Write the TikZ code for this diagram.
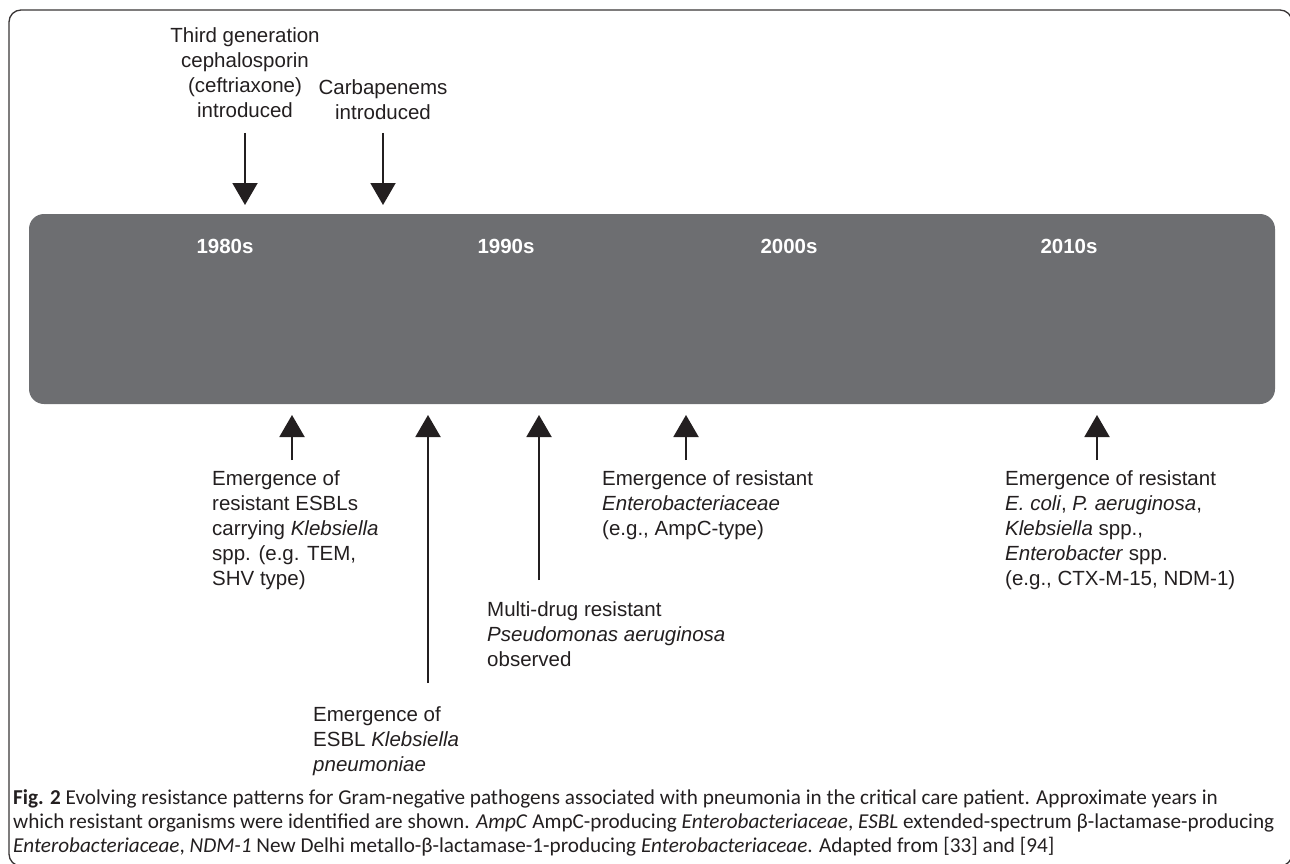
\documentclass[tikz,border=0pt]{standalone}
\usepackage{fontspec}
\setmainfont{Liberation Sans}
\newfontfamily\capfont{Carlito}
\usetikzlibrary{arrows.meta}
\definecolor{bargray}{HTML}{6D6E71}
\definecolor{ink}{HTML}{231F20}
\newlength\mycapw
\newcommand\mycaplinetwo{which resistant organisms were identified are shown. \textit{AmpC} AmpC-producing \textit{Enterobacteriaceae}, \textit{ESBL} extended-spectrum β-lactamase-producing}
\begin{document}
\settowidth\mycapw{\capfont\fontsize{20}{24}\selectfont\mycaplinetwo}%
\pgfmathsetmacro\mycapsize{1261/\mycapw*20}%
\begin{tikzpicture}[x=1pt,y=-1pt,
  lbl/.style={font=\fontsize{20.5}{25}\selectfont, text=ink, inner sep=0pt},
  yearlbl/.style={font=\fontsize{20.5}{24}\selectfont\bfseries, text=white, inner sep=0pt},
  arr/.style={draw=ink, line width=2pt, -{Triangle[length=22pt,width=25pt]}},
  capstyle/.style={font=\capfont\fontsize{\mycapsize}{24}\selectfont, text=ink, inner sep=0pt, align=left}
]
\useasboundingbox (0,0) rectangle (1290,864);
% outer frame
\draw[ink!90, line width=1.3pt, rounded corners=12pt] (9,10) rectangle (1292,866);
% bar
\fill[bargray, rounded corners=15pt] (29,214) rectangle (1275,404);
% year labels
\node[yearlbl] (y80) at (225,246.5) {1980s};
\node[yearlbl] (y90) at (506,246.5) {1990s};
\node[yearlbl] (y00) at (789,246.5) {2000s};
\node[yearlbl] (y10) at (1069,246.5) {2010s};
% top labels
\node[lbl, align=center, anchor=north] (t1) at (245,27) {Third generation\\cephalosporin\\(ceftriaxone)\\introduced};
\node[lbl, align=center, anchor=north] (t2) at (383,79) {Carbapenems\\introduced};
\coordinate (t1s) at (245,133); \coordinate (t1e) at (245,205);
\coordinate (t2s) at (383,133); \coordinate (t2e) at (383,205);
\draw[arr] (t1s) -- (t1e);
\draw[arr] (t2s) -- (t2e);
% bottom labels
\node[lbl, align=left, anchor=north west] (b1) at (212,470) {Emergence of\\resistant ESBLs\\carrying \textit{Klebsiella}\\spp. (e.g. TEM,\\SHV type)};
\node[lbl, align=left, anchor=north west] (b2) at (313,706) {Emergence of\\ESBL \textit{Klebsiella}\\\textit{pneumoniae}};
\node[lbl, align=left, anchor=north west] (b3) at (487,601) {Multi-drug resistant\\\textit{Pseudomonas aeruginosa}\\observed};
\node[lbl, align=left, anchor=north west] (b4) at (602,470) {Emergence of resistant\\\textit{Enterobacteriaceae}\\(e.g., AmpC-type)};
\node[lbl, align=left, anchor=north west] (b5) at (1005,470) {Emergence of resistant\\\textit{E. coli}, \textit{P. aeruginosa},\\\textit{Klebsiella} spp.,\\\textit{Enterobacter} spp.\\(e.g., CTX-M-15, NDM-1)};
\coordinate (b1s) at (292,460); \coordinate (b1e) at (292,415);
\coordinate (b2s) at (428,683); \coordinate (b2e) at (428,415);
\coordinate (b3s) at (539,580); \coordinate (b3e) at (539,415);
\coordinate (b4s) at (686,460); \coordinate (b4e) at (686,415);
\coordinate (b5s) at (1097,460); \coordinate (b5e) at (1097,415);
\draw[arr] (b1s) -- (b1e);
\draw[arr] (b2s) -- (b2e);
\draw[arr] (b3s) -- (b3e);
\draw[arr] (b4s) -- (b4e);
\draw[arr] (b5s) -- (b5e);
% caption
\node[capstyle, anchor=north west] (cap) at (13,789) {\textbf{Fig. 2} Evolving resistance patterns for Gram-negative pathogens associated with pneumonia in the critical care patient. Approximate years in\\\mycaplinetwo\\\textit{Enterobacteriaceae}, \textit{NDM-1} New Delhi metallo-β-lactamase-1-producing \textit{Enterobacteriaceae}. Adapted from [33] and [94]};
\end{tikzpicture}
\end{document}
